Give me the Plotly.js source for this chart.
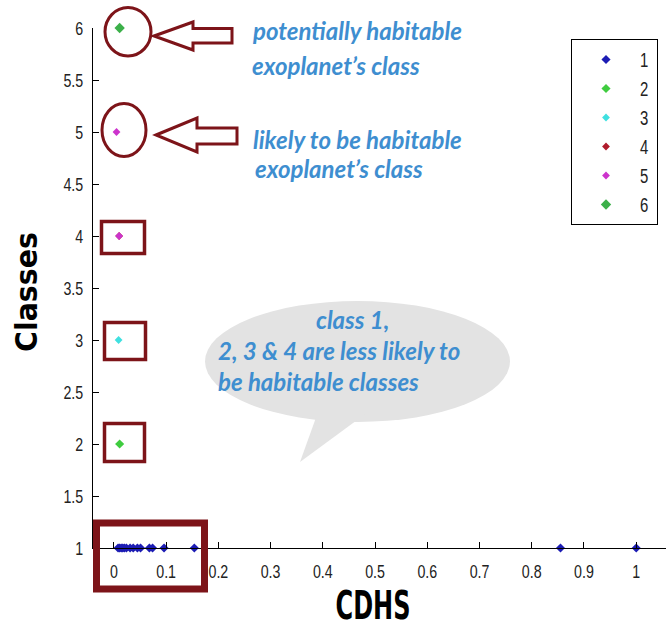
<!DOCTYPE html>
<html>
<head>
<meta charset="utf-8">
<script src="https://cdn.plot.ly/plotly-3.0.1.min.js"></script>
<style>html,body{margin:0;padding:0;background:#fff;}#chart{width:669px;height:627px;}</style>
</head>
<body>
<div id="chart"></div>
<script>
// ---- data ----
const classNames = ['1', '2', '3', '4', '5', '6'];
const class1X = [0.008, 0.011, 0.014, 0.017, 0.020, 0.024, 0.031, 0.037, 0.045, 0.051, 0.068, 0.074, 0.096, 0.154, 0.855, 1.0];
const class1Y = [1, 1, 1, 1, 1, 1, 1, 1, 1, 1, 1, 1, 1, 1, 1, 1];
const class2X = [0.011];
const class2Y = [2];
const class3X = [0.009];
const class3Y = [3];
const class4X = [0.010];
const class4Y = [4];
const class5X = [0.010, 0.005];
const class5Y = [4, 5];
const class6X = [0.011];
const class6Y = [6];
const xTickVals = [0, 0.1, 0.2, 0.3, 0.4, 0.5, 0.6, 0.7, 0.8, 0.9, 1];
const yTickVals = [1, 1.5, 2, 2.5, 3, 3.5, 4, 4.5, 5, 5.5, 6];

// ---- styling ----
const colors = ['#1c1cb4', '#3fcc3f', '#3fe0e0', '#b01c2c', '#cc33cc', '#3cb04a'];
const xs = [class1X, class2X, class3X, class4X, class5X, class6X];
const ys = [class1Y, class2Y, class3Y, class4Y, class5Y, class6Y];
const sizes = [7, 7, 6, 6, 6, 8];

const traces = classNames.map((n, i) => ({
  type: 'scatter', mode: 'markers', name: n,
  x: xs[i], y: ys[i], cliponaxis: false,
  legendgroup: 'g' + n,
  marker: {symbol: 'diamond', size: sizes[i], color: colors[i]}
}));

const L = 93, T = 28, W = 573, H = 520;
const px = x => (x - L) / W;
const py = y => (T + H - y) / H;
const maroon = '#7d1419';

function rectShape(x0, y0, x1, y1, w) {
  return {type: 'rect', xref: 'paper', yref: 'paper', x0: px(x0), x1: px(x1), y0: py(y1), y1: py(y0),
    line: {color: maroon, width: w}, fillcolor: 'rgba(0,0,0,0)', layer: 'above'};
}
function ellShape(x0, y0, x1, y1, w) {
  return {type: 'circle', xref: 'paper', yref: 'paper', x0: px(x0), x1: px(x1), y0: py(y1), y1: py(y0),
    line: {color: maroon, width: w}, fillcolor: 'rgba(0,0,0,0)', layer: 'above'};
}
function pathShape(pts, opts) {
  const d = pts.map((p, i) => (i ? 'L' : 'M') + px(p[0]) + ',' + py(p[1])).join(' ') + ' Z';
  return Object.assign({type: 'path', xref: 'paper', yref: 'paper', path: d}, opts);
}
function arrow(tipX, tipY, headX, headTop, headBot, shaftTop, shaftBot, endX) {
  return pathShape([[tipX, tipY], [headX, headTop], [headX, shaftTop], [endX, shaftTop], [endX, shaftBot], [headX, shaftBot], [headX, headBot]],
    {line: {color: maroon, width: 3}, fillcolor: 'rgba(0,0,0,0)', layer: 'above'});
}

const shapes = [
  // speech bubble
  {type: 'circle', xref: 'paper', yref: 'paper', x0: px(205), x1: px(510), y0: py(422), y1: py(301),
    line: {width: 0}, fillcolor: '#e3e3e3', layer: 'below'},
  pathShape([[318, 412], [300, 462], [368, 412]], {line: {width: 0}, fillcolor: '#e3e3e3', layer: 'below'}),
  ellShape(105, 7.5, 151, 56, 3),
  ellShape(102, 103.5, 146, 156.5, 3),
  arrow(154, 36, 193, 22, 50, 28.5, 43, 232),
  arrow(156, 135, 197, 118, 152, 128, 144, 237),
  rectShape(101.5, 221.5, 144.5, 253.5, 3.5),
  rectShape(104.5, 322.5, 145.5, 359.5, 3.5),
  rectShape(104.5, 423.5, 144.5, 461.5, 3.5),
  rectShape(96.5, 523, 204.5, 589, 7)
];

const blueFont = {family: 'Lato, "Open Sans", sans-serif', size: 24, color: '#3e8ed0', weight: 'bold', style: 'italic'};
function note(text, x, y, anchor) {
  return {text: text, xref: 'paper', yref: 'paper', x: px(x), y: py(y), xanchor: anchor || 'left', yanchor: 'middle',
    showarrow: false, font: blueFont, align: 'left'};
}
const annotations = [
  note('potentially habitable', 250, 31),
  note('exoplanet\u2019s class', 250, 66),
  note('likely to be habitable', 251, 139),
  note('exoplanet\u2019s class', 253, 168),
  note('class 1,', 352, 319, 'center'),
  note('2, 3 &amp; 4 are less likely to', 216, 350),
  note('be habitable classes', 216, 381)
];

const tickFont = {family: '"Liberation Sans", Arial, sans-serif', size: 19, color: '#222'};
const xTitleSize = 39, yTitleSize = 31;
const layout = {
  width: 669, height: 627,
  margin: {l: L, r: 669 - L - W, t: T, b: 627 - T - H, pad: 0},
  paper_bgcolor: '#fff', plot_bgcolor: '#fff',
  showlegend: true,
  legend: {x: px(571), y: py(39), xanchor: 'left', yanchor: 'top', bgcolor: '#fff', bordercolor: '#000', borderwidth: 1,
    font: {family: tickFont.family, size: 20, color: '#222'}, itemwidth: 58, tracegroupgap: 5, traceorder: 'normal'},
  xaxis: {range: [-0.04, 1.057], tickvals: xTickVals, ticktext: xTickVals.map(String), ticks: 'inside', ticklen: 6, tickcolor: '#000',
    showline: true, linecolor: '#000', linewidth: 1, showgrid: false, zeroline: false, tickfont: tickFont, ticklabelstandoff: 6,
    title: {text: 'CDHS', font: {family: '"DejaVu Sans", sans-serif', size: xTitleSize, weight: 'bold', color: '#000'}}, automargin: false},
  yaxis: {range: [1, 6], tickvals: yTickVals, ticktext: yTickVals.map(String), ticks: 'inside', ticklen: 6, tickcolor: '#000',
    showline: true, linecolor: '#000', linewidth: 1, showgrid: false, zeroline: false, tickfont: tickFont, ticklabelstandoff: 5,
    title: {text: 'Classes', font: {family: '"DejaVu Sans", sans-serif', size: yTitleSize, weight: 'bold', color: '#000'}}, automargin: false},
  shapes: shapes,
  annotations: annotations
};

function squeeze(el, f) {
  const len = el.getComputedTextLength();
  if (len > 0) { el.setAttribute('textLength', (len * f).toFixed(1)); el.setAttribute('lengthAdjust', 'spacingAndGlyphs'); }
}
const ASC = 0.928; // DejaVu ascent / em

Plotly.newPlot('chart', traces, layout, {displayModeBar: false, staticPlot: true}).then(gd => {
  const origin = gd.getBoundingClientRect();
  const xt = gd.querySelector('.xtitle');
  if (xt) {
    xt.setAttribute('textLength', 75); xt.setAttribute('lengthAdjust', 'spacingAndGlyphs');
    // move so the baseline sits at y = 619 and the centre at x = 373 (screen pixels)
    const r = xt.getBoundingClientRect();
    const baseNow = r.top - origin.top + ASC * xTitleSize;
    const cxNow = (r.left + r.right) / 2 - origin.left;
    const dy = 619 - baseNow, dx = 373 - cxNow;
    const t0 = xt.getAttribute('transform') || '';
    xt.setAttribute('transform', 'translate(' + dx.toFixed(1) + ',' + dy.toFixed(1) + ') ' + t0);
  }
  const yt = gd.querySelector('.ytitle');
  if (yt) {
    yt.setAttribute('textLength', 120); yt.setAttribute('lengthAdjust', 'spacingAndGlyphs');
    const r = yt.getBoundingClientRect();
    const baseNow = r.left - origin.left + ASC * yTitleSize;
    const cyNow = (r.top + r.bottom) / 2 - origin.top;
    const dx = 37 - baseNow, dy = 292 - cyNow;
    const t0 = yt.getAttribute('transform') || '';
    yt.setAttribute('transform', 'translate(' + dx.toFixed(1) + ',' + dy.toFixed(1) + ') ' + t0);
  }
  gd.querySelectorAll('.xtick text, .ytick text, .legendtext').forEach(t => squeeze(t, 0.75));
});
</script>
</body>
</html>
